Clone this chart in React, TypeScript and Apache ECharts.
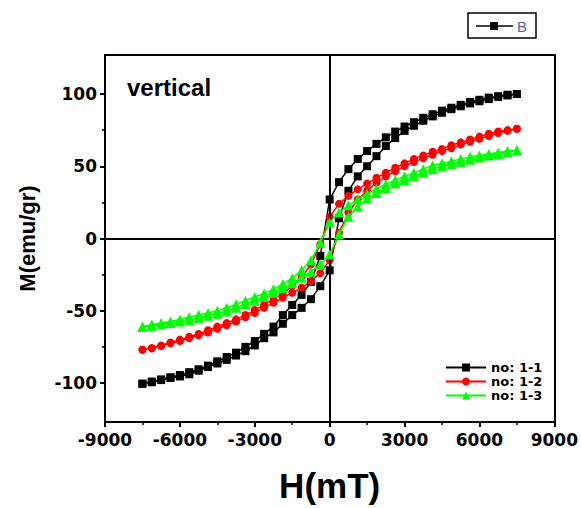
import React, { useEffect, useRef } from "react";
import * as echarts from "echarts";

// Applied field grid (mT)
const H_DESC = [7500, 7125, 6750, 6375, 6000, 5625, 5250, 4875, 4500, 4125, 3750, 3375, 3000, 2625, 2250, 1875, 1500, 1125, 750, 375, 0, -375, -750, -1125, -1500, -1875, -2250, -2625, -3000, -3375, -3750, -4125, -4500, -4875, -5250, -5625, -6000, -6375, -6750, -7125, -7500];
const H_ASC = [-7500, -7125, -6750, -6375, -6000, -5625, -5250, -4875, -4500, -4125, -3750, -3375, -3000, -2625, -2250, -1875, -1500, -1125, -750, -375, 0, 375, 750, 1125, 1500, 1875, 2250, 2625, 3000, 3375, 3750, 4125, 4500, 4875, 5250, 5625, 6000, 6375, 6750, 7125, 7500];

// no: 1-1 (black)
const M11_DESC = [100, 99.5, 98.5, 97.5, 96, 94.5, 92.5, 90.5, 88.5, 86, 83.5, 80.5, 77.5, 74, 70, 65.5, 60.5, 55, 48, 39, 27, -12, -30, -39, -46, -53, -61, -66, -71, -75, -79, -82, -85, -88, -90.5, -92.5, -94.5, -96, -97.5, -99, -100.5];
const M11_ASC = [-100.5, -99.5, -98, -96.5, -95.5, -94, -91.5, -89, -86.5, -84, -81, -78, -74, -69, -65, -59, -53, -48, -42, -33, -22, 14, 33, 43, 50, 57, 64, 69.5, 74.5, 78, 81.5, 84.5, 87, 89.5, 91.5, 93.5, 95, 96.5, 98, 99, 100];

// no: 1-2 (red)
const M12_DESC = [76, 75, 74, 72.5, 70.5, 68.5, 66.5, 64.5, 62, 60, 57.5, 55, 52, 49, 45.5, 42, 38, 34, 29.5, 24, 15, -4, -18, -27, -33, -38, -42, -46, -49.5, -53, -56, -58.5, -61, -63.5, -66, -68, -70, -72, -74, -76, -77];
const M12_ASC = [-77, -76, -74.5, -72.5, -71, -69, -67, -65, -62.5, -60, -57.5, -54.5, -51.5, -48, -44.5, -41, -37.5, -34, -29.5, -24, -15, 4, 18, 27, 33, 38.5, 43, 46.5, 50, 53, 55.5, 58, 60.5, 62.5, 65, 67, 69, 71, 73, 74.5, 76];

// no: 1-3 (green)
const M13_DESC = [61, 60.5, 59.5, 58.5, 57.5, 56.5, 55, 53.5, 52, 50.5, 48, 45.5, 43, 40.5, 37.5, 34.5, 31, 27, 23, 18, 11, -3, -15, -22, -27.5, -31.5, -35, -38, -40.5, -43, -45.5, -48, -50, -51.5, -53, -54.5, -56, -57.5, -58.5, -59.5, -61];
const M13_ASC = [-61, -60.5, -59.5, -58.5, -57.5, -56.5, -55, -53.5, -52, -50.5, -48, -45.5, -43, -40.5, -37.5, -34.5, -31, -27, -23, -18, -11, 3, 15, 22, 27.5, 31.5, 35, 38, 40.5, 43, 45.5, 48, 50, 51.5, 53, 54.5, 56, 57.5, 58.5, 59.5, 61];

const SERIES_NAMES = ["no: 1-1", "no: 1-2", "no: 1-3"];
const SERIES_COLORS = ["#000000", "#ff0000", "#00ff00"];
const SERIES_SYMBOLS = ["rect", "circle", "triangle"];

const X_MIN = -9000;
const X_MAX = 9000;
const X_INTERVAL = 3000;
const Y_MIN = -127;
const Y_MAX = 127;
const Y_LABEL_VALUES = [-100, -50, 0, 50, 100];
const Y_MINOR_VALUES = [-75, -25, 25, 75];

function loop(desc: number[], asc: number[]) {
  const pts: number[][] = [];
  H_DESC.forEach((h, i) => pts.push([h, desc[i]]));
  H_ASC.forEach((h, i) => pts.push([h, asc[i]]));
  return pts;
}

export default function App() {
  const ref = useRef<HTMLDivElement>(null);

  useEffect(() => {
    if (!ref.current) return;
    const chart = echarts.init(ref.current, null, { renderer: "svg" });
    const tickFont = { fontFamily: "DejaVu Sans", fontWeight: "bold" as const, fontSize: 17, color: "#000" };
    const loops = [loop(M11_DESC, M11_ASC), loop(M12_DESC, M12_ASC), loop(M13_DESC, M13_ASC)];
    const sizes = [8, 8, 10];
    const fmt = (v: number) => String(v);

    chart.setOption({
      animation: false,
      backgroundColor: "#fff",
      grid: { left: 105, right: 24, top: 55, bottom: 84 },
      legend: {
        show: true,
        orient: "vertical",
        left: 445,
        top: 361,
        itemWidth: 40,
        itemHeight: 10,
        itemGap: 1,
        padding: 0,
        textStyle: { fontFamily: "DejaVu Sans", fontWeight: "bold", fontSize: 13, color: "#000" },
        data: SERIES_NAMES,
      },
      xAxis: [
        {
          type: "value",
          min: X_MIN,
          max: X_MAX,
          interval: X_INTERVAL,
          axisLine: { onZero: false, lineStyle: { color: "#000", width: 2 } },
          axisTick: { show: true, length: 5, lineStyle: { color: "#000", width: 2 } },
          minorTick: { show: true, splitNumber: 2, length: 3, lineStyle: { color: "#000", width: 1.5 } },
          splitLine: { show: false },
          minorSplitLine: { show: false },
          axisLabel: { ...tickFont, margin: 9, formatter: fmt },
          name: "H(mT)",
          nameLocation: "middle",
          nameGap: 46,
          nameTextStyle: { fontFamily: "Liberation Sans", fontWeight: "bold", fontSize: 35, color: "#000" },
        },
        {
          type: "value",
          position: "top",
          min: X_MIN,
          max: X_MAX,
          axisLine: { onZero: false, lineStyle: { color: "#000", width: 2 } },
          axisTick: { show: false },
          axisLabel: { show: false },
          splitLine: { show: false },
        },
      ],
      yAxis: [
        {
          type: "value",
          position: "left",
          min: Y_MIN,
          max: Y_MAX,
          axisLine: { onZero: false, lineStyle: { color: "#000", width: 2 } },
          axisTick: { show: true, length: 5, customValues: Y_LABEL_VALUES, lineStyle: { color: "#000", width: 2 } },
          axisLabel: { ...tickFont, margin: 8, customValues: Y_LABEL_VALUES, formatter: fmt },
          splitLine: { show: false },
          name: "M(emu/gr)",
          nameLocation: "middle",
          nameGap: 67,
          nameTextStyle: { fontFamily: "Liberation Sans", fontWeight: "bold", fontSize: 22, color: "#000" },
        },
        {
          type: "value",
          position: "left",
          min: Y_MIN,
          max: Y_MAX,
          axisLine: { show: false, onZero: false },
          axisTick: { show: true, length: 3, customValues: Y_MINOR_VALUES, lineStyle: { color: "#000", width: 1.5 } },
          axisLabel: { show: false },
          splitLine: { show: false },
        },
        {
          type: "value",
          position: "right",
          min: Y_MIN,
          max: Y_MAX,
          axisLine: { onZero: false, lineStyle: { color: "#000", width: 2 } },
          axisTick: { show: false },
          axisLabel: { show: false },
          splitLine: { show: false },
        },
      ],
      graphic: [
        {
          type: "text",
          left: 127,
          top: 75,
          style: { text: "vertical", font: 'bold 24px "Liberation Sans"', fill: "#000" },
        },
        {
          type: "group",
          children: [
            { type: "rect", shape: { x: 468, y: 13, width: 68, height: 25 }, style: { fill: "#fff", stroke: "#000", lineWidth: 1.5 } },
            { type: "line", shape: { x1: 476, y1: 26, x2: 513, y2: 26 }, style: { stroke: "#000", lineWidth: 1.5 } },
            { type: "rect", shape: { x: 490, y: 22, width: 8, height: 8 }, style: { fill: "#000" } },
            { type: "text", x: 517, y: 26, style: { text: "B", font: '15px "Liberation Sans"', fill: "#4f6a9c", verticalAlign: "middle" } },
          ],
        },
      ],
      series: SERIES_NAMES.map((name, i) => ({
        name,
        type: "line",
        xAxisIndex: 0,
        yAxisIndex: 0,
        data: loops[i],
        symbol: SERIES_SYMBOLS[i],
        symbolSize: sizes[i],
        showSymbol: true,
        lineStyle: { color: SERIES_COLORS[i], width: 1.5 },
        itemStyle: { color: SERIES_COLORS[i] },
        z: 3 + i,
        ...(i === 0
          ? {
              markLine: {
                silent: true,
                symbol: ["none", "none"],
                label: { show: false },
                lineStyle: { color: "#000", width: 2, type: "solid" },
                data: [{ xAxis: 0 }, { yAxis: 0 }],
              },
            }
          : {}),
      })),
    });
    return () => chart.dispose();
  }, []);

  return <div ref={ref} style={{ position: "fixed", left: 0, top: 0, width: 581, height: 508 }} />;
}
